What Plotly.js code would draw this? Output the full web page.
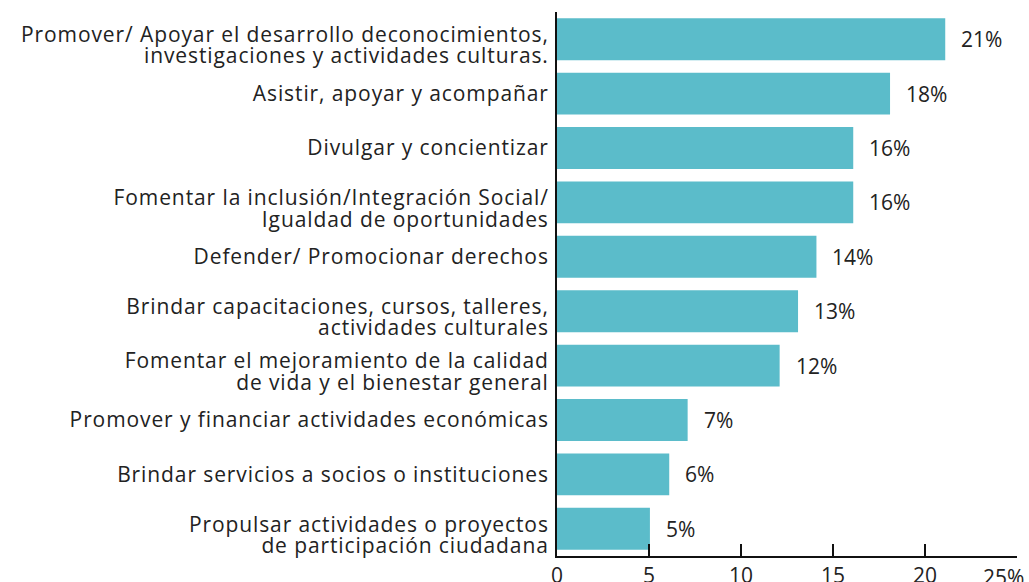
<!DOCTYPE html>
<html><head><meta charset="utf-8">
<script src="https://cdn.plot.ly/plotly-3.0.1.min.js"></script>
<style>html,body{margin:0;padding:0;background:#fff}#c{width:1029px;height:582px}
.ytick text{letter-spacing:0.9px}</style>
</head><body><div id="c"></div>
<script>
const categories = [
  "Promover/ Apoyar el desarrollo deconocimientos,<br>investigaciones y actividades culturas.",
  "Asistir, apoyar y acompañar",
  "Divulgar y concientizar",
  "Fomentar la inclusión/Integración Social/<br>Igualdad de oportunidades",
  "Defender/ Promocionar derechos",
  "Brindar capacitaciones, cursos, talleres,<br>actividades culturales",
  "Fomentar el mejoramiento de la calidad<br>de vida y el bienestar general",
  "Promover y financiar actividades económicas",
  "Brindar servicios a socios o instituciones",
  "Propulsar actividades o proyectos<br>de participación ciudadana"
];
const values = [21.1, 18.1, 16.1, 16.1, 14.1, 13.1, 12.1, 7.1, 6.1, 5.05];
const valueLabels = ["21%", "18%", "16%", "16%", "14%", "13%", "12%", "7%", "6%", "5%"];
const tickVals = [0, 5, 10, 15, 20, 25];
const tickText = ["0", "5", "10", "15", "20", "25%"];

const FONT = "'Open Sans', sans-serif";
const SIZE = 21;
const annotations = values.map((v, i) => ({
  x: v, y: categories[i], xref: 'x', yref: 'y', text: valueLabels[i],
  showarrow: false, xanchor: 'left', xshift: 14,
  font: {family: FONT, size: SIZE, color: '#222'}
}));
// last x tick label drawn right-aligned so it stays inside the page
annotations.push({
  x: tickVals[tickVals.length - 1], y: 0, xref: 'x', yref: 'paper',
  text: tickText[tickText.length - 1], showarrow: false,
  xanchor: 'right', yanchor: 'top', xshift: 9, yshift: -5,
  font: {family: FONT, size: SIZE, color: '#222'}
});
const shownTicks = tickText.map((t, i) => i === tickText.length - 1 ? "" : t);

Plotly.newPlot('c', [{
  type: 'bar', orientation: 'h', x: values, y: categories,
  marker: {color: '#5BBCCA', line: {width: 0}},
  hoverinfo: 'skip'
}], {
  width: 1029, height: 582,
  margin: {l: 557, r: 12, t: 12, b: 26},
  paper_bgcolor: '#fff', plot_bgcolor: '#fff',
  bargap: 0.23,
  showlegend: false,
  font: {family: FONT, size: SIZE, color: '#222'},
  xaxis: {range: [0, 25], tickvals: tickVals, ticktext: shownTicks,
    showgrid: false, zeroline: false, showline: true, linecolor: '#111', linewidth: 2,
    ticks: 'inside', ticklen: 12, tickwidth: 2, tickcolor: '#111',
    ticklabelstandoff: 0,
    tickfont: {family: FONT, size: SIZE, color: '#222'}, fixedrange: true},
  yaxis: {autorange: 'reversed', showgrid: false, zeroline: false, showline: true,
    linecolor: '#111', linewidth: 2, layer: 'below traces', ticks: '',
    ticklabelstandoff: 2,
    tickfont: {family: FONT, size: SIZE, color: '#222'}, fixedrange: true},
  annotations: annotations
}, {displayModeBar: false, staticPlot: true}).then(gd => {
  // tighten line spacing of two-line category labels (reference leading ~22px)
  gd.querySelectorAll('.ytick text').forEach(t => {
    const lines = t.querySelectorAll('tspan.line');
    if (lines.length < 2) return;
    const b1 = lines[0].getStartPositionOfChar(0).y;
    const top = b1 + 9;
    lines.forEach((ln, k) => {
      ln.removeAttribute('dy');
      ln.setAttribute('y', top + k * 21.5);
    });
  });
});
</script></body></html>
